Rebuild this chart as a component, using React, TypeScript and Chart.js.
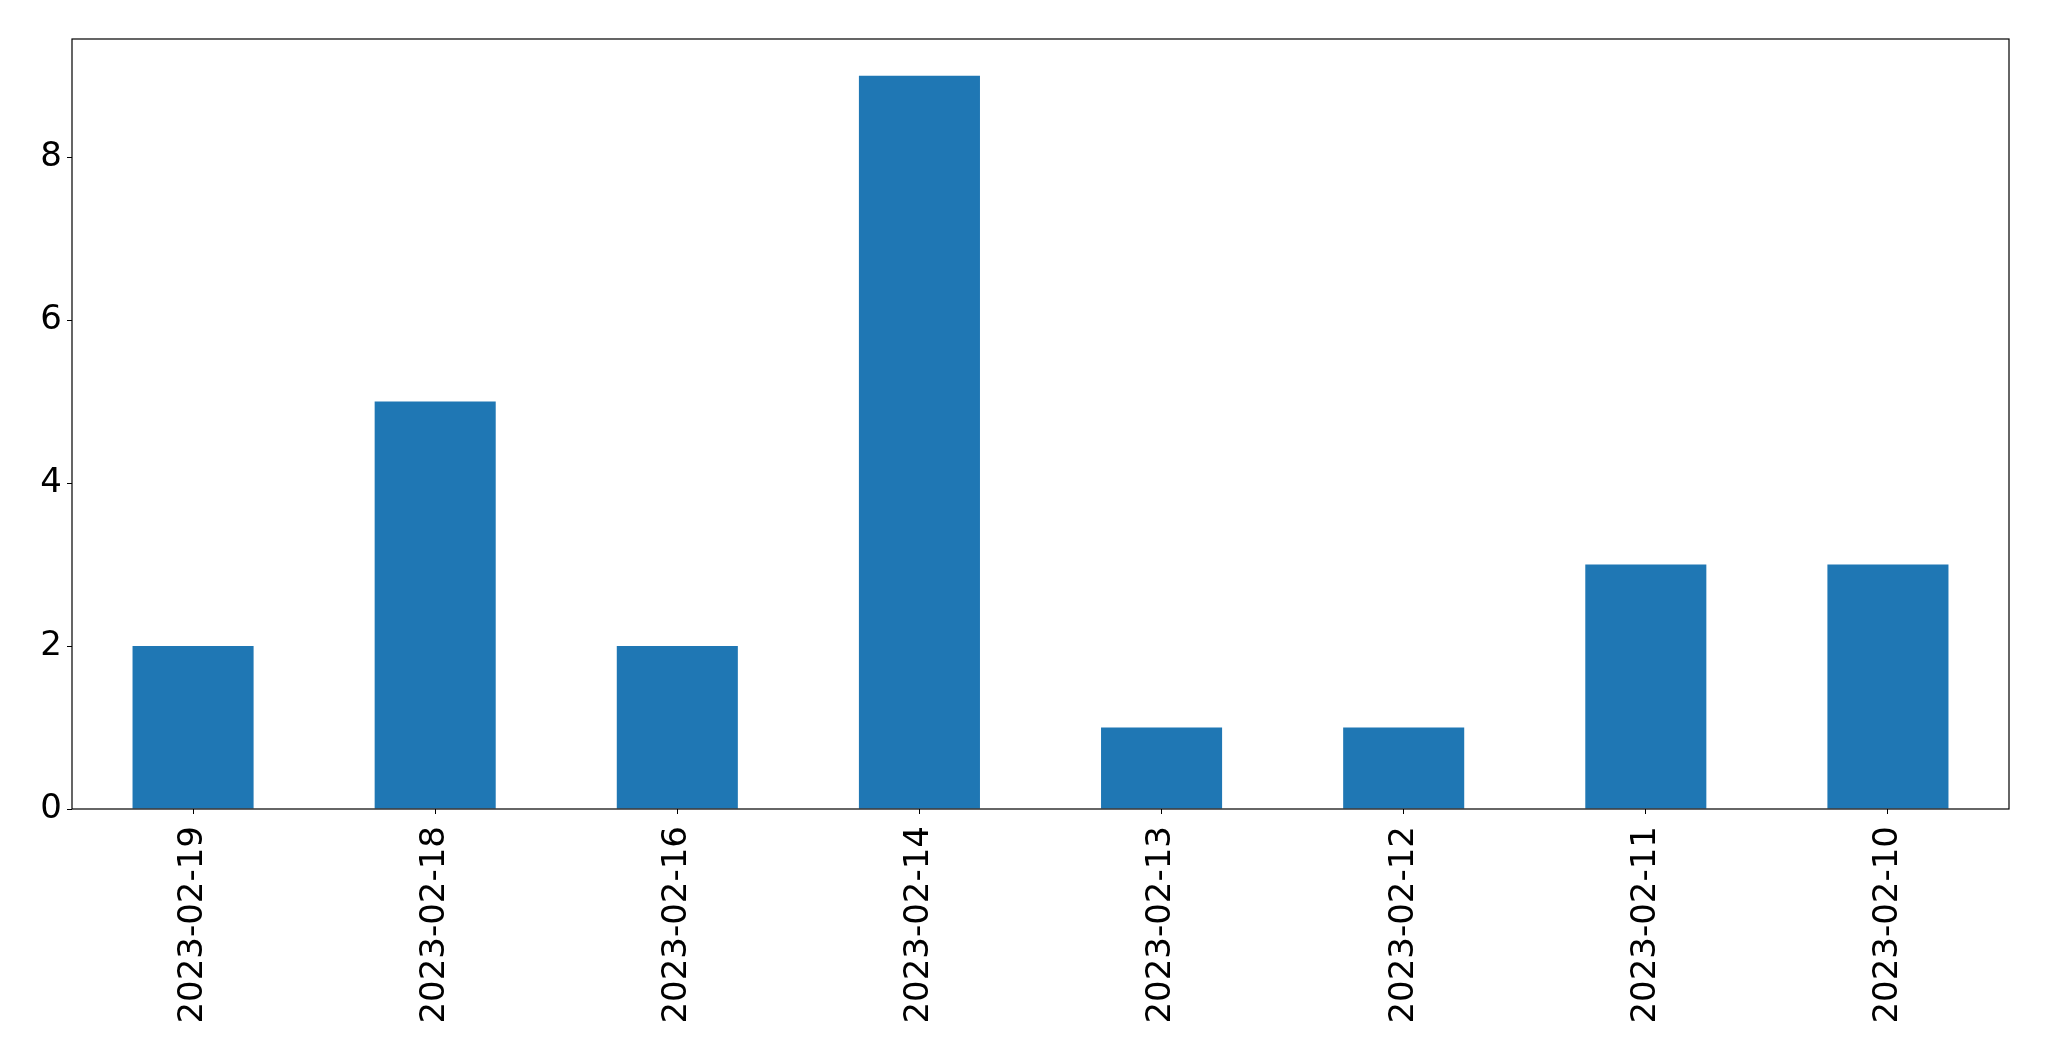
import React, { useEffect, useRef } from "react";
import { Chart, registerables } from "chart.js";

Chart.register(...registerables);

const categories = [
  "2023-02-19",
  "2023-02-18",
  "2023-02-16",
  "2023-02-14",
  "2023-02-13",
  "2023-02-12",
  "2023-02-11",
  "2023-02-10",
];
const counts = [2, 5, 2, 9, 1, 1, 3, 3];
const yTicks = [0, 2, 4, 6, 8];

const W = 2049;
const H = 1061;

const framePlugin = {
  id: "frame",
  afterDatasetsDraw(chart: any) {
    const { ctx, chartArea } = chart;
    ctx.save();
    ctx.strokeStyle = "#000";
    ctx.lineWidth = 1.2;
    ctx.strokeRect(chartArea.left, chartArea.top, chartArea.right - chartArea.left, chartArea.bottom - chartArea.top);
    ctx.restore();
  },
};

export default function App() {
  const ref = useRef<HTMLCanvasElement>(null);
  useEffect(() => {
    document.body.style.margin = "0";
    const canvas = ref.current!;
    const chart = new Chart(canvas, {
      type: "bar",
      data: {
        labels: categories,
        datasets: [
          {
            data: counts,
            backgroundColor: "#1f77b4",
            borderWidth: 0,
            barPercentage: 0.5,
            categoryPercentage: 1,
          },
        ],
      },
      options: {
        responsive: false,
        animation: false,
        devicePixelRatio: 1,
        layout: { padding: { left: 0, top: 39, right: 40, bottom: 0 } },
        plugins: { legend: { display: false }, tooltip: { enabled: false } },
        scales: {
          x: {
            offset: true,
            grid: { display: true, drawOnChartArea: false, color: "#000", tickLength: 5, offset: false },
            border: { display: false },
            ticks: {
              minRotation: 90,
              maxRotation: 90,
              autoSkip: false,
              padding: 12,
              color: "#000",
              font: { family: "DejaVu Sans", size: 34 },
            },
            afterFit: (s: any) => {
              s.height = H - 809;
            },
          },
          y: {
            min: 0,
            max: 9.45,
            grid: { display: true, drawOnChartArea: false, color: "#000", tickLength: 5 },
            border: { display: false },
            afterBuildTicks: (s: any) => {
              s.ticks = yTicks.map((v) => ({ value: v }));
            },
            ticks: {
              color: "#000",
              padding: 5,
              font: { family: "DejaVu Sans", size: 34 },
            },
            afterFit: (s: any) => {
              s.width = 72;
            },
          },
        },
      },
      plugins: [framePlugin],
    });
    return () => chart.destroy();
  }, []);
  return (
    <div style={{ width: W, height: H, background: "#fff" }}>
      <canvas ref={ref} width={W} height={H} style={{ display: "block", width: W, height: H }} />
    </div>
  );
}
